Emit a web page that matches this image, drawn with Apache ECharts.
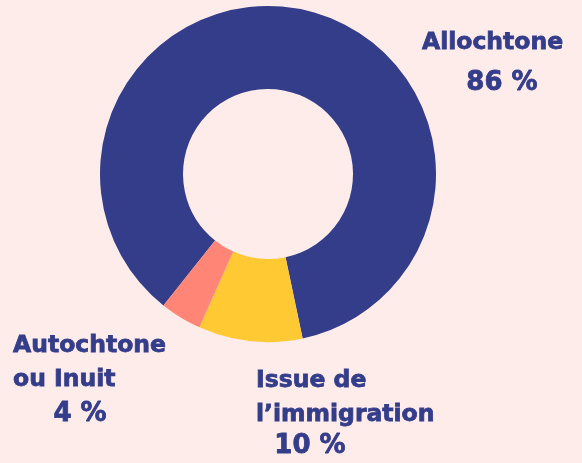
<!DOCTYPE html>
<html>
<head>
  <meta charset="utf-8">
  <title>ECharts</title>
  <script src="https://cdn.jsdelivr.net/npm/echarts@6/dist/echarts.min.js"></script>
  <style>
    html, body { margin: 0; padding: 0; background: #feeceb; }
    #main { width: 582px; height: 463px; }
  </style>
</head>
<body>
  <div id="main"></div>
  <script type="text/javascript">
    // données
    var names = ['Allochtone', 'Issue de\nl\u2019immigration', 'Autochtone\nou Inuit'];
    var values = [86, 10, 4];
    var colors = ['#343d8a', '#ffc933', '#ff8677'];

    var myChart = echarts.init(document.getElementById('main'));

    var navy = '#343d8a';
    var font = '"DejaVu Sans"';

    // position des étiquettes (nom puis pourcentage)
    var labelPos = [
      { nx: 422, ny: 26, nAlign: 'left', vx: 502, vy: 70 },
      { nx: 256, ny: 364, nAlign: 'left', vx: 310, vy: 433 },
      { nx: 13, ny: 329, nAlign: 'left', vx: 80, vy: 401 }
    ];

    var graphics = [];
    names.forEach(function (n, i) {
      var p = labelPos[i];
      graphics.push({
        type: 'text', x: p.nx, y: p.ny,
        style: {
          text: n, fill: navy, font: 'bold 23.5px ' + font,
          stroke: navy, lineWidth: 0.8,
          textAlign: p.nAlign, textVerticalAlign: 'top', lineHeight: 34
        }
      });
      graphics.push({
        type: 'text', x: p.vx, y: p.vy,
        style: {
          text: values[i] + ' %', fill: navy, font: 'bold 26px ' + font,
          stroke: navy, lineWidth: 0.8,
          textAlign: 'center', textVerticalAlign: 'top'
        }
      });
    });

    var option = {
      backgroundColor: '#feeceb',
      animation: false,
      graphic: graphics,
      series: [{
        type: 'pie',
        center: [268, 174],
        radius: [85, 168],
        startAngle: 231.5,
        clockwise: true,
        label: { show: false },
        labelLine: { show: false },
        itemStyle: { borderWidth: 0 },
        data: values.map(function (v, i) {
          return { name: names[i], value: v, itemStyle: { color: colors[i] } };
        })
      }]
    };
    myChart.setOption(option);
  </script>
</body>
</html>
